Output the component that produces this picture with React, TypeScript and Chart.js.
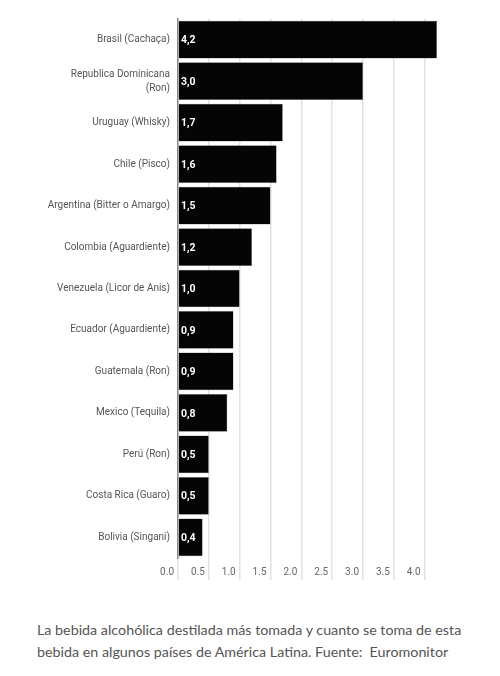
import { useEffect, useRef } from 'react'
import { Chart, registerables } from 'chart.js'

Chart.register(...registerables)

const categories: (string | string[])[] = [
  'Brasil (Cachaça)',
  ['Republica Dominicana', '(Ron)'],
  'Uruguay (Whisky)',
  'Chile (Pisco)',
  'Argentina (Bitter o Amargo)',
  'Colombia (Aguardiente)',
  'Venezuela (Licor de Anis)',
  'Ecuador (Aguardiente)',
  'Guatemala (Ron)',
  'Mexico (Tequila)',
  'Perú (Ron)',
  'Costa Rica (Guaro)',
  'Bolivia (Singani)',
]

const litres = [4.2, 3.0, 1.7, 1.6, 1.5, 1.2, 1.0, 0.9, 0.9, 0.8, 0.5, 0.5, 0.4]

const caption =
  'La bebida alcohólica destilada más tomada y cuanto se toma de esta bebida en algunos países de América Latina. Fuente:  Euromonitor'

const narrow = 'Roboto, sans-serif'

// writes the value inside the start of each bar, with a comma as decimal mark
const valueLabels = {
  id: 'valueLabels',
  afterDatasetsDraw(chart: Chart) {
    const ctx = chart.ctx
    const meta = chart.getDatasetMeta(0)
    ctx.save()
    ctx.fillStyle = '#ffffff'
    ctx.font = `bold 10.5px ${narrow}`
    ctx.textAlign = 'left'
    ctx.textBaseline = 'middle'
    meta.data.forEach((bar: any, i: number) => {
      ctx.fillText(litres[i].toFixed(1).replace('.', ','), chart.chartArea.left + 3, bar.y + 1)
    })
    ctx.restore()
  },
}

export default function App() {
  const canvasRef = useRef<HTMLCanvasElement>(null)
  const chartRef = useRef<Chart | null>(null)

  useEffect(() => {
    if (!canvasRef.current) return
    chartRef.current?.destroy()

    chartRef.current = new Chart(canvasRef.current, {
      type: 'bar',
      data: {
        labels: categories,
        datasets: [
          {
            data: litres,
            backgroundColor: '#050505',
            borderColor: '#777',
            borderWidth: 0.5,
            barPercentage: 0.91,
            categoryPercentage: 1,
          },
        ],
      },
      options: {
        indexAxis: 'y',
        animation: false,
        responsive: true,
        maintainAspectRatio: false,
        layout: { padding: { top: 19, right: 63, bottom: 22, left: 0 } },
        plugins: {
          legend: { display: false },
          tooltip: { enabled: false },
        },
        scales: {
          x: {
            min: 0,
            max: 4.2,
            ticks: {
              stepSize: 0.5,
              includeBounds: false,
              align: 'end',
              labelOffset: -4,
              padding: -14,
              color: '#666',
              font: { family: narrow, size: 10 },
              callback: (v) => Number(v).toFixed(1),
            },
            grid: { color: '#e2e2e2', lineWidth: 1.5, tickLength: 22, drawOnChartArea: true },
            border: { display: false },
            afterFit: (scale: any) => {
              scale.height = 20
            },
          },
          y: {
            ticks: {
              padding: 8,
              color: '#555',
              font: { family: narrow, size: 10, lineHeight: 1.4 },
            },
            grid: { display: false, drawTicks: false },
            border: { display: true, color: '#888', width: 1.5 },
            afterFit: (scale: any) => {
              scale.width = 178
            },
          },
        },
      },
      plugins: [valueLabels],
    })

    return () => {
      chartRef.current?.destroy()
    }
  }, [])

  return (
    <div style={{ position: 'absolute', left: 0, top: 0, width: 500, height: 676, background: '#fff' }}>
      <div style={{ position: 'absolute', left: 0, top: 0, width: 500, height: 600 }}>
        <canvas ref={canvasRef} />
      </div>
      <p
        style={{
          position: 'absolute',
          left: 37,
          top: 619,
          width: 436,
          margin: 0,
          fontFamily: 'Lato, "Noto Sans", sans-serif',
          fontSize: 14.3,
          lineHeight: '22px',
          color: '#555',
          whiteSpace: 'pre-wrap',
        }}
      >
        {caption}
      </p>
    </div>
  )
}
